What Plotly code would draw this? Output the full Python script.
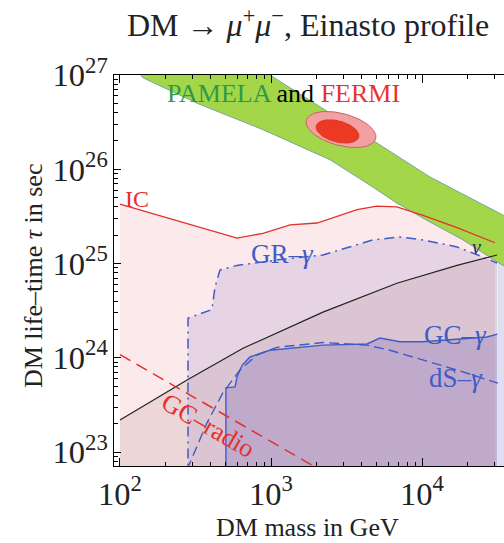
import numpy as np
import plotly.graph_objects as go

# ---------------- data: DM mass [GeV] and lifetime tau [s] ----------------
tau_floor = 5e22  # closes filled regions below the visible range

# inverse-Compton bound
ic_mass = [100, 596, 885, 1337, 2018, 3715, 5012, 6823, 10160, 17060, 30400]
ic_tau = [4.27e25, 1.86e25, 2.09e25, 2.57e25, 2.69e25, 3.72e25, 4.07e25,
          3.98e25, 3.24e25, 2.40e25, 1.66e25]

# galactic-ridge gamma bound
gr_mass = [282, 282, 406, 426, 459, 596, 1148, 2208, 4732, 7140, 10160,
           17060, 25350, 31400]
gr_tau = [tau_floor, 2.63e24, 3.24e24, 5.62e24, 8.51e24, 9.55e24, 1.10e25,
          1.23e25, 1.78e25, 1.91e25, 1.78e25, 1.50e25, 1.17e25, 1.01e25]

# galactic-centre gamma bound
gc_mass = [503, 503, 578, 596, 643, 726, 984, 1486, 2208, 4325, 5272, 7140,
           10160, 26900, 31600]
gc_tau = [tau_floor, 4.79e23, 4.90e23, 6.31e23, 8.32e23, 1.02e24, 1.20e24,
          1.29e24, 1.36e24, 1.40e24, 1.62e24, 1.48e24, 1.48e24, 1.66e24, 1.78e24]

# dwarf-spheroidal gamma bound
ds_mass = [278, 377, 481, 623, 807, 1096, 2208, 4325, 6138, 10160, 17060, 31840]
ds_tau = [6.5e22, 2.04e23, 4.27e23, 7.41e23, 1.07e24, 1.29e24, 1.45e24,
          1.36e24, 1.20e24, 9.46e23, 7.41e23, 5.37e23]

# neutrino bound
nu_mass = [100, 278, 653, 2208, 6823, 17060, 31400]
nu_tau = [2.19e23, 5.81e23, 1.26e24, 3.05e24, 6.17e24, 9.55e24, 1.23e25]

# galactic-centre radio bound
radio_mass = [100, 2000]
radio_tau = [1.08e24, 6.8e22]

# pale band beyond the last computed mass
edge_mass = [31600, 40000]
edge_tau = [1.0e25, 1.0e25]

# PAMELA region: upper and lower edges
pam_up_mass = [726, 984, 4064, 11300, 34360, 40000]
pam_up_tau = [1.37e27, 1.0e27, 2.37e26, 8.28e25, 3.27e25, 2.85e25]
pam_lo_mass = [116, 142, 324, 885, 2460, 4530, 6820, 11300, 18700, 31400, 40000]
pam_lo_tau = [1.38e27, 9.33e26, 5.01e26, 2.63e26, 1.26e26, 6.76e25, 4.37e25,
              2.75e25, 1.78e25, 1.04e25, 8.3e24]

# FERMI+PAMELA best-fit contours (centre, semi-axes in mass decades, tilt deg)
fermi_outer = dict(mass=2908, tau=2.64e26, a=0.238, b=0.106, tilt=-15)
fermi_inner = dict(mass=2757, tau=2.52e26, a=0.146, b=0.070, tilt=-15)
decade_aspect = 151 / 94.25  # visual length of a mass decade vs a tau decade

SERIF = "Liberation Serif, Times New Roman, serif"
RED = "#e3312c"
BLUE = "#3e5cc6"


def region(mass, tau):
    """Polygon under a curve, closed along the floor."""
    xs = list(mass) + [mass[-1], mass[0]]
    ys = list(tau) + [tau_floor, tau_floor]
    return xs, ys


def ellipse(p, n=120):
    t = np.linspace(0, 2 * np.pi, n)
    th = np.radians(p["tilt"])
    dx = p["a"] * np.cos(t) * np.cos(th) - p["b"] * np.sin(t) * np.sin(th)
    dy = p["a"] * np.cos(t) * np.sin(th) + p["b"] * np.sin(t) * np.cos(th)
    lx = np.log10(p["mass"]) + dx
    ly = np.log10(p["tau"]) + dy * decade_aspect
    return 10 ** lx, 10 ** ly


fig = go.Figure()


def fill(xs, ys, color, line=None):
    fig.add_trace(go.Scatter(x=xs, y=ys, mode="lines", fill="toself",
                             fillcolor=color,
                             line=line or dict(width=0, color=color),
                             hoverinfo="skip", showlegend=False))


def curve(xs, ys, color, width=1.3, dash="solid"):
    fig.add_trace(go.Scatter(x=xs, y=ys, mode="lines",
                             line=dict(color=color, width=width, dash=dash),
                             hoverinfo="skip", showlegend=False))


# excluded regions
fill(*region(ic_mass, ic_tau), "rgb(251,233,235)")
fill(*region(gr_mass, gr_tau), "rgba(150,128,205,0.20)")
fill(*region(nu_mass, nu_tau), "rgba(165,118,110,0.16)")
fill(*region(gc_mass, gc_tau), "rgba(105,85,190,0.24)")
fill(*region(edge_mass, edge_tau), "rgb(222,224,242)")

# PAMELA band
band_x = pam_up_mass + pam_lo_mass[::-1]
band_y = pam_up_tau + pam_lo_tau[::-1]
fill(band_x, band_y, "#a4d64a", line=dict(color="rgba(100,150,160,0.8)", width=1))

# FERMI contours
ox, oy = ellipse(fermi_outer)
fill(ox, oy, "#f2a0a2", line=dict(color="#c86262", width=1))
ix, iy = ellipse(fermi_inner)
fill(ix, iy, "#ec3a22", line=dict(color="#d83020", width=0.8))

# bound curves
curve(ic_mass, ic_tau, RED, 1.3)
curve(gr_mass, gr_tau, BLUE, 1.5, "10px,5px,2px,5px")
curve(gc_mass, gc_tau, BLUE, 1.4)
curve(ds_mass, ds_tau, BLUE, 1.4, "10px,5px")
curve(nu_mass, nu_tau, "#222222", 1.2)
curve(radio_mass, radio_tau, RED, 1.5, "12px,7px")

ann = []


def label(x, y, text, color, size=24, angle=0):
    ann.append(dict(x=np.log10(x), y=np.log10(y), xref="x", yref="y",
                    text=text, showarrow=False, textangle=angle,
                    font=dict(family=SERIF, size=size, color=color),
                    xanchor="center", yanchor="middle"))


label(1202, 6.3e26,
      "<span style='color:#2e9a48'>PAMELA</span> and "
      "<span style='color:#e8332a'>FERMI</span>", "black", 26)
label(130, 4.83e25, "IC", RED, 24)
label(1200, 1.26e25, "GR–<i>γ</i>", BLUE, 27)
label(16600, 1.74e24, "GC–<i>γ</i>", BLUE, 27)
label(16800, 6.1e23, "dS–<i>γ</i>", BLUE, 27)
label(383, 1.93e23, "GC–radio", RED, 26, angle=30)
label(23100, 1.50e25, "<i>ν</i>", "#1e2a5a", 20)

# title and axis titles
ann.append(dict(x=0.497, y=1.133, xref="paper", yref="paper", showarrow=False,
                text="DM → <i>μ</i><sup>+</sup><i>μ</i><sup>−</sup>, Einasto profile",
                font=dict(family=SERIF, size=32, color="#222"),
                xanchor="center", yanchor="middle"))
ann.append(dict(x=0.497, y=-0.158, xref="paper", yref="paper", showarrow=False,
                text="DM mass in GeV",
                font=dict(family=SERIF, size=26, color="#222"),
                xanchor="center", yanchor="middle"))
ann.append(dict(x=-0.208, y=0.488, xref="paper", yref="paper", showarrow=False,
                text="DM life–time <i>τ</i> in sec", textangle=-90,
                font=dict(family=SERIF, size=26, color="#222"),
                xanchor="center", yanchor="middle"))

axis_common = dict(type="log", showgrid=False, zeroline=False, showline=True,
                   linecolor="black", linewidth=1, ticks="inside",
                   tickcolor="black", dtick=1, exponentformat="power",
                   tickfont=dict(family=SERIF, size=26, color="#222"),
                   minor=dict(ticks="inside", ticklen=4, tickcolor="black",
                              showgrid=False))

fig.update_layout(
    width=504, height=543,
    margin=dict(l=114, r=0, t=75, b=77),
    paper_bgcolor="white", plot_bgcolor="white",
    xaxis=dict(range=[1.9603, 4.5430], mirror="ticks", ticklen=8, **axis_common),
    yaxis=dict(range=[22.8515, 27.0], mirror=False, ticklen=7, **axis_common),
    annotations=ann,
)

fig.write_html("out.html")
